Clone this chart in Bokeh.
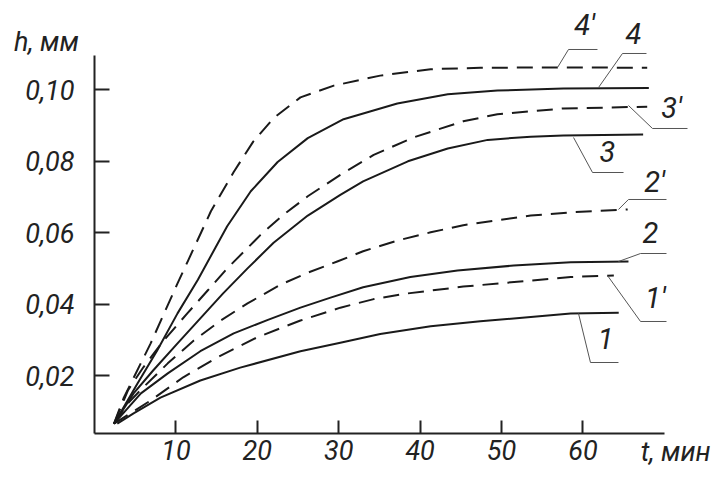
from bokeh.plotting import figure
from bokeh.models import Label, FixedTicker, CustomJSTickFormatter, Range1d
from bokeh.embed import file_html
from bokeh.resources import INLINE

# ---- data (t in min, h in mm) ----
t_4p = [2.4, 3.6, 6.9, 10.2, 11.5, 14.3, 17.1, 19.5, 22.0, 25.3, 29.4, 35.1, 41.3, 47.4, 57.6, 67.9]
h_4p = [0.0065, 0.0138, 0.0290, 0.0458, 0.0522, 0.0660, 0.0770, 0.0855, 0.0921, 0.0979, 0.1012, 0.1040, 0.1058, 0.1062, 0.1063, 0.1062]

t_4 = [2.4, 5.3, 7.7, 10.2, 12.7, 14.9, 16.3, 19.2, 22.5, 26.2, 30.6, 37.2, 43.4, 49.5, 57.6, 68.1]
h_4 = [0.0065, 0.0178, 0.0270, 0.0374, 0.0468, 0.0560, 0.0618, 0.0716, 0.0798, 0.0865, 0.0918, 0.0962, 0.0988, 0.0998, 0.1004, 0.1005]

t_3p = [2.4, 4.1, 6.0, 8.5, 11.4, 13.9, 16.3, 18.8, 20.4, 23.2, 26.2, 30.2, 34.3, 39.2, 45.3, 49.5, 57.6, 67.9]
h_3p = [0.0065, 0.0158, 0.0223, 0.0298, 0.0374, 0.0438, 0.0500, 0.0557, 0.0594, 0.0650, 0.0702, 0.0762, 0.0818, 0.0867, 0.0912, 0.0932, 0.0948, 0.0953]

t_3 = [2.4, 4.8, 7.2, 10.2, 13.0, 15.8, 18.8, 22.0, 26.2, 30.2, 33.0, 38.5, 43.4, 48.3, 53.6, 57.6, 67.4]
h_3 = [0.0065, 0.0150, 0.0214, 0.0290, 0.0360, 0.0430, 0.0500, 0.0572, 0.0648, 0.0706, 0.0744, 0.0800, 0.0836, 0.0860, 0.0869, 0.0872, 0.0875]

t_2p = [2.4, 4.1, 6.0, 9.0, 12.2, 15.5, 18.8, 22.9, 26.2, 29.9, 33.0, 37.2, 41.3, 45.3, 53.6, 58.5, 65.5]
h_2p = [0.0065, 0.0122, 0.0167, 0.0234, 0.0298, 0.0354, 0.0402, 0.0455, 0.0488, 0.0520, 0.0548, 0.0578, 0.0601, 0.0621, 0.0648, 0.0657, 0.0665]

t_2 = [2.4, 5.7, 9.0, 13.0, 17.1, 21.3, 25.3, 29.0, 33.0, 38.8, 44.6, 51.5, 58.5, 65.6]
h_2 = [0.0065, 0.0150, 0.0206, 0.0268, 0.0318, 0.0356, 0.0390, 0.0418, 0.0447, 0.0476, 0.0494, 0.0508, 0.0517, 0.0519]

t_1p = [2.4, 6.9, 10.9, 15.1, 20.0, 25.3, 30.2, 34.3, 38.5, 45.3, 53.6, 58.5, 63.8]
h_1p = [0.0065, 0.0130, 0.0195, 0.0251, 0.0307, 0.0354, 0.0390, 0.0414, 0.0430, 0.0449, 0.0466, 0.0476, 0.0480]

t_1 = [2.8, 4.8, 8.1, 13.0, 17.9, 25.3, 30.2, 35.1, 41.3, 47.4, 53.6, 58.5, 64.4]
h_1 = [0.0065, 0.0094, 0.0138, 0.0186, 0.0222, 0.0268, 0.0292, 0.0316, 0.0338, 0.0352, 0.0364, 0.0374, 0.0376]

curve_names = ["4′", "4", "3′", "3", "2′", "2", "1′", "1"]
x_ticks = [10, 20, 30, 40, 50, 60]
y_ticks = [0.02, 0.04, 0.06, 0.08, 0.10]
x_title = "t, мин"
y_title = "h, мм"

# ---- layout of curve labels and leader lines (data coords) ----
label_pos = {
    "4′": (60.2, 0.1183), "4": (66.2, 0.1158), "3′": (70.9, 0.0950), "3": (63.0, 0.0828),
    "2′": (68.8, 0.0743), "2": (68.3, 0.0600), "1′": (68.9, 0.0418), "1": (62.8, 0.0304),
}
leaders = {
    "4′": ([56.88, 58.23, 61.79], [0.10627, 0.11132, 0.11132]),
    "4": ([61.92, 64.86, 67.81], [0.10067, 0.11020, 0.11020]),
    "3′": ([65.60, 68.55, 72.85], [0.09563, 0.08919, 0.08919]),
    "3": ([58.85, 61.18, 64.99], [0.08667, 0.07686, 0.07686]),
    "2′": ([64.37, 65.60, 70.27], [0.06650, 0.06930, 0.06930]),
    "2": ([64.37, 67.08, 70.27], [0.05193, 0.05417, 0.05417]),
    "1′": ([63.02, 67.08, 70.27], [0.04801, 0.03513, 0.03513]),
    "1": ([59.46, 60.93, 64.37], [0.03737, 0.02364, 0.02364]),
}

FONT = "Roboto"
INK = "#222222"
Y0 = 0.00375
X_AXIS_END = 70
Y_AXIS_END = 0.1096
W, H = 720, 476
PX_PER_MIN = 8.14
PX_PER_MM = 3570.0
X0_PX, H0_PX = 94.0, 446.4  # pixel position of t=0 and h=0

p = figure(width=W, height=H, output_backend="svg", toolbar_location=None,
           x_range=Range1d(-X0_PX / PX_PER_MIN, (W - X0_PX) / PX_PER_MIN),
           y_range=Range1d((H0_PX - H) / PX_PER_MM, H0_PX / PX_PER_MM),
           min_border=0, min_border_left=0, min_border_right=0,
           min_border_top=0, min_border_bottom=0)
p.grid.visible = False
p.outline_line_color = None
p.background_fill_color = "white"

for ax in (p.xaxis[0], p.yaxis[0]):
    ax.axis_line_width = 2
    ax.axis_line_color = INK
    ax.major_tick_line_width = 2
    ax.major_tick_line_color = INK
    ax.major_tick_out = 0
    ax.minor_tick_line_color = None
    ax.major_label_text_font = FONT
    ax.major_label_text_font_style = "italic"
    ax.major_label_text_font_size = "27px"
    ax.major_label_text_color = INK

p.xaxis.fixed_location = Y0
p.xaxis.ticker = FixedTicker(ticks=x_ticks)
p.xaxis.major_tick_in = 13
p.xaxis.major_label_standoff = 6
p.xaxis.bounds = (0, X_AXIS_END)

p.yaxis.fixed_location = 0
p.yaxis.ticker = FixedTicker(ticks=y_ticks)
p.yaxis.major_tick_in = 15
p.yaxis.major_label_standoff = 20
p.yaxis.bounds = (Y0, Y_AXIS_END)
p.yaxis.formatter = CustomJSTickFormatter(code="return tick.toFixed(2).replace('.', ',');")

series = [(t_4p, h_4p, True), (t_4, h_4, False), (t_3p, h_3p, True), (t_3, h_3, False),
          (t_2p, h_2p, True), (t_2, h_2, False), (t_1p, h_1p, True), (t_1, h_1, False)]

for name, (t, h, dashed) in zip(curve_names, series):
    if dashed:
        p.line(t, h, line_color="#1a1a1a", line_width=2, line_dash="16 9", line_join="round")
    else:
        p.line(t, h, line_color="#1a1a1a", line_width=2, line_join="round")
    lx, ly = leaders[name]
    p.line(lx, ly, line_color="#555555", line_width=1)
    x, y = label_pos[name]
    p.add_layout(Label(x=x, y=y, text=name, text_align="center", text_baseline="middle",
                       text_font=FONT, text_font_style="italic", text_font_size="29px",
                       text_color=INK))

p.add_layout(Label(x=-9.9, y=0.1133, text=y_title, text_align="left", text_baseline="middle",
                   text_font=FONT, text_font_style="italic", text_font_size="27px",
                   text_color=INK))
p.add_layout(Label(x=67.1, y=-0.0013, text=x_title, text_align="left", text_baseline="middle",
                   text_font=FONT, text_font_style="italic", text_font_size="27px",
                   text_color=INK))

open("out.html", "w").write(file_html(p, INLINE))
